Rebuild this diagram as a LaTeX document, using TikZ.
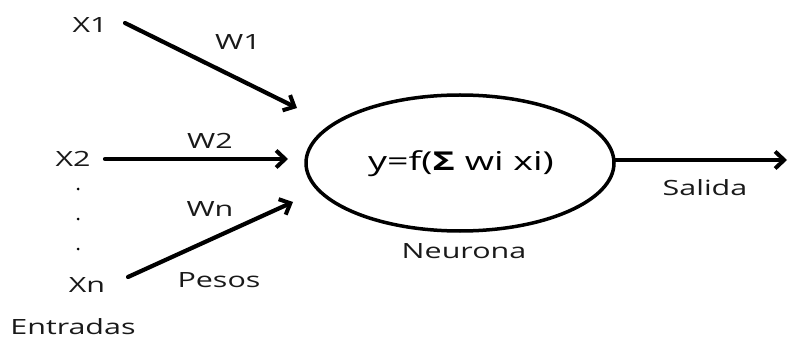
\documentclass[tikz,border=0pt]{standalone}
\usepackage{fontspec}
\setmainfont{Open Sans}
\usetikzlibrary{arrows.meta,shapes.geometric}
\newcommand{\widetxt}[1]{\scalebox{1.45}[1]{#1}}
\begin{document}
\begin{tikzpicture}[x=1pt,y=-1pt,
  lbl/.style={font=\fontsize{21}{23}\selectfont, inner sep=0pt, text=black!90},
  conn/.style={line width=4.2pt, line cap=round, -{Straight Barb[length=9pt,width=17pt,line width=4pt]}},
  dotlbl/.style={circle, fill=black, inner sep=0pt, minimum size=3pt}]
\useasboundingbox (0,0) rectangle (789,339);
\node[lbl] (x1) at (90,25) {\widetxt{X1}};
\node[lbl] (w1) at (238,42) {\widetxt{W1}};
\node[lbl] (x2) at (73,159) {\widetxt{X2}};
\node[lbl] (w2) at (210,141) {\widetxt{W2}};
\node[lbl] (wn) at (210,209) {\widetxt{Wn}};
\node[lbl] (xn) at (87,285) {\widetxt{Xn}};
\node[lbl] (pesos) at (219,280) {\widetxt{Pesos}};
\node[lbl] (entradas) at (73,327) {\widetxt{Entradas}};
\node[dotlbl] (d1) at (78,189) {};
\node[dotlbl] (d2) at (78,219) {};
\node[dotlbl] (d3) at (78,249) {};
\node[draw, ellipse, line width=3.5pt, minimum width=308pt, minimum height=136pt, inner sep=0pt] (neu) at (460,163) {};
\node[font=\fontsize{26}{28}\selectfont, inner sep=0pt] (f) at (461,164) {\widetxt{y=f(\textbf{Σ} wi xi)}};
\node[lbl] (neurona) at (464,251) {\widetxt{Neurona}};
\node[lbl] (salida) at (705,188) {\widetxt{Salida}};
\coordinate (s1) at (125,23);
\coordinate (e1) at (297,108);
\coordinate (s2) at (105,159);
\coordinate (e2) at (288,159);
\coordinate (sn) at (128,277);
\coordinate (en) at (293,202);
\coordinate (out) at (787,160);
\draw[conn] (s1) -- (e1);
\draw[conn] (s2) -- (e2);
\draw[conn] (sn) -- (en);
\draw[conn] (neu.east |- out) -- (out);
\end{tikzpicture}
\end{document}
